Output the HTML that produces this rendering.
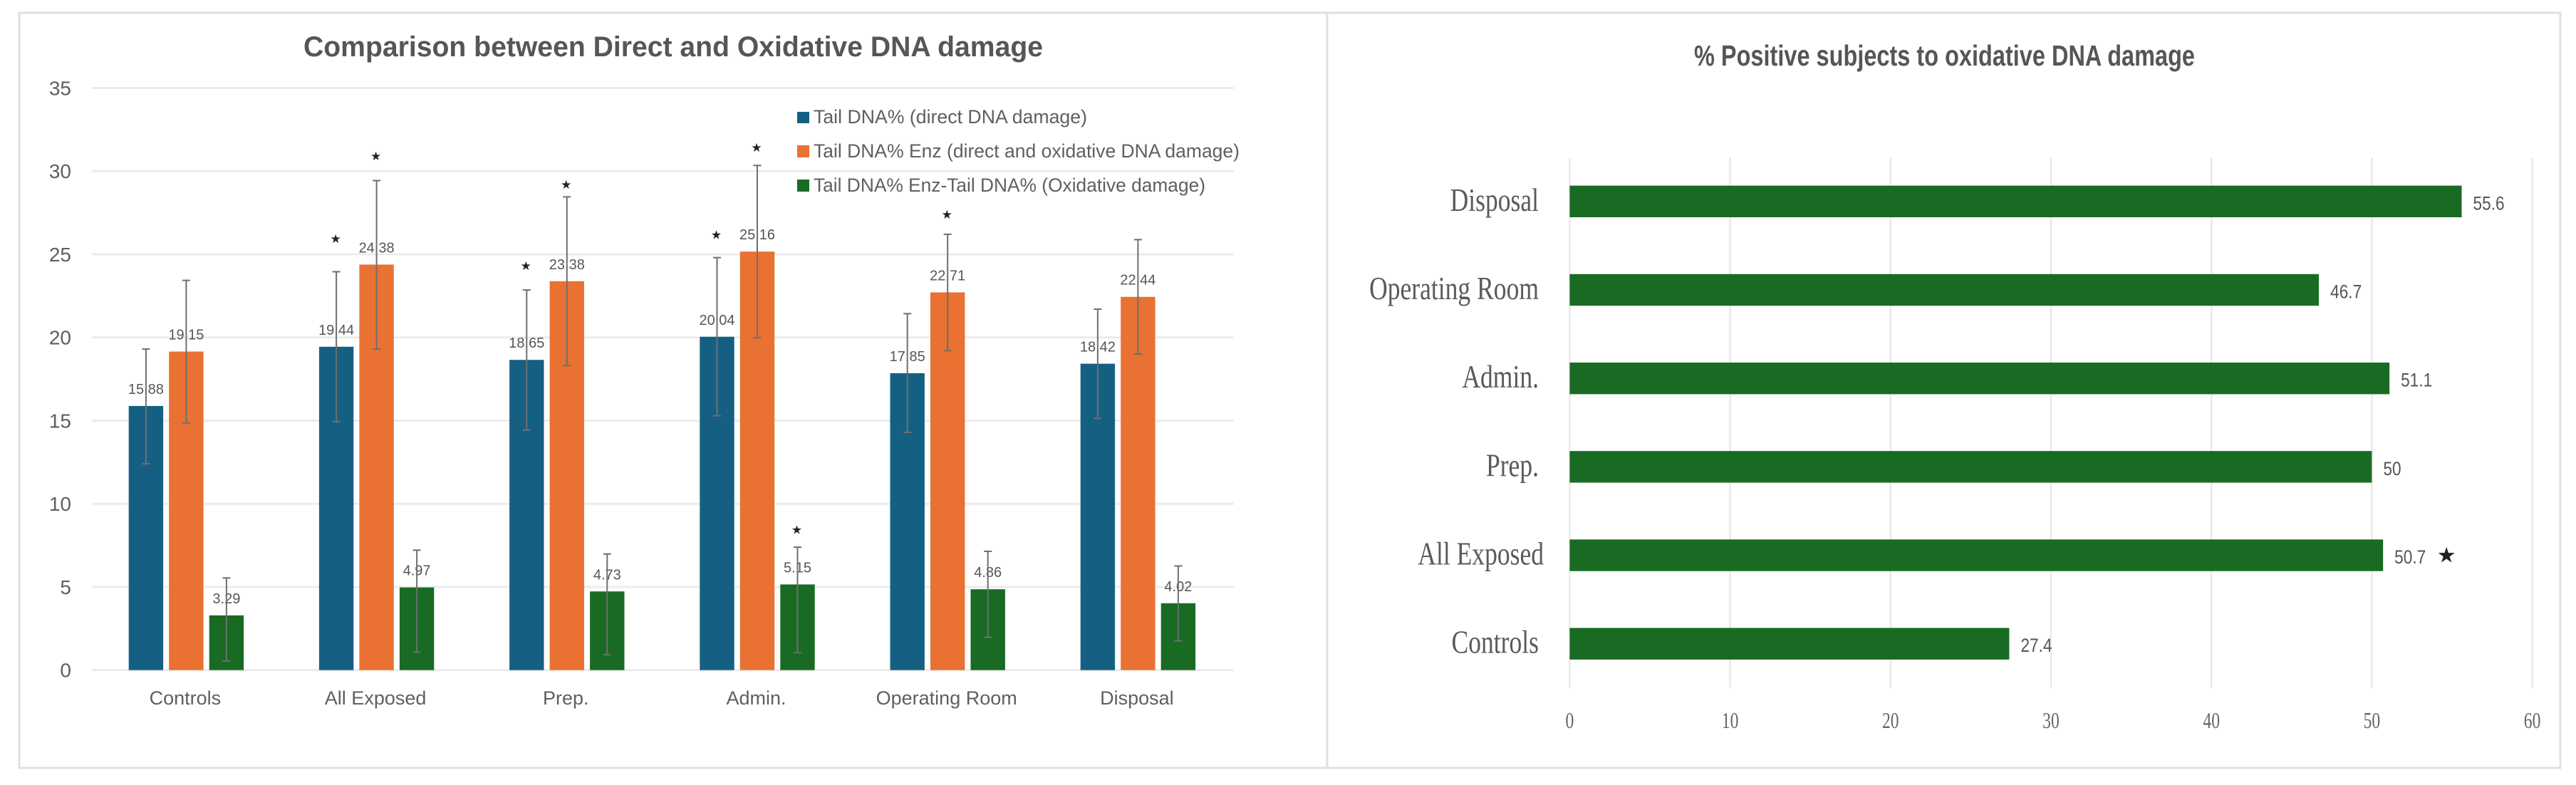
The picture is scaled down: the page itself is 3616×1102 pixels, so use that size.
<!DOCTYPE html>
<html lang="en">
<head>
<meta charset="utf-8">
<title>DNA damage charts</title>
<style>
html,body{margin:0;padding:0;background:#fff;width:3616px;height:1102px;overflow:hidden}
svg{display:block}
text{font-family:"Liberation Sans",sans-serif}
</style>
</head>
<body>
<svg id="figure" xmlns="http://www.w3.org/2000/svg" width="3616" height="1102" viewBox="0 0 3616 1102">
  <rect x="27" y="18" width="1836" height="1060" fill="#fff" stroke="#e0e0e0" stroke-width="3"/>
  <rect x="1863" y="18" width="1731" height="1060" fill="#fff" stroke="#e0e0e0" stroke-width="3"/>
  <text x="426" y="79" font-size="40" font-weight="700" fill="#565656" textLength="1038" lengthAdjust="spacingAndGlyphs">Comparison between Direct and Oxidative DNA damage</text>
  <text x="2378" y="92" font-size="41" font-weight="700" fill="#565656" textLength="703" lengthAdjust="spacingAndGlyphs">% Positive subjects to oxidative DNA damage</text>
  <g id="left-grid"></g>
  <g id="left-ticks"></g>
  <g id="left-marks"></g>
  <g id="left-cats"></g>
  <g>
    <g>
      <rect x="1119" y="157" width="17" height="16" fill="#156082"/>
      <text x="1142" y="173" font-size="27" fill="#5f5f5f" textLength="384" lengthAdjust="spacingAndGlyphs">Tail DNA% (direct DNA damage)</text>
    </g>
    <g>
      <rect x="1119" y="204" width="17" height="17" fill="#E97132"/>
      <text x="1142" y="221" font-size="27" fill="#5f5f5f" textLength="598" lengthAdjust="spacingAndGlyphs">Tail DNA% Enz (direct and oxidative DNA damage)</text>
    </g>
    <g>
      <rect x="1119" y="252" width="17" height="17" fill="#196B24"/>
      <text x="1142" y="269" font-size="27" fill="#5f5f5f" textLength="550" lengthAdjust="spacingAndGlyphs">Tail DNA% Enz-Tail DNA% (Oxidative damage)</text>
    </g>
  </g>
  <g id="right-grid"></g>
  <g id="right-marks"></g>
  <g id="right-cats"></g>
  <g id="right-ticks"></g>
</svg>
<script>
// ---- Left chart data ----
const categories = ['Controls', 'All Exposed', 'Prep.', 'Admin.', 'Operating Room', 'Disposal'];
const yTickValues = [0, 5, 10, 15, 20, 25, 30, 35];
const directValues = [15.88, 19.44, 18.65, 20.04, 17.85, 18.42];
const enzymeValues = [19.15, 24.38, 23.38, 25.16, 22.71, 22.44];
const oxidativeValues = [3.29, 4.97, 4.73, 5.15, 4.86, 4.02];
const directErrHigh = [19.3, 23.95, 22.85, 24.8, 21.43, 21.7];
const directErrLow = [12.4, 14.93, 14.43, 15.29, 14.29, 15.13];
const enzymeErrHigh = [23.43, 29.43, 28.45, 30.34, 26.2, 25.88];
const enzymeErrLow = [14.86, 19.3, 18.31, 19.98, 19.2, 19.0];
const oxidativeErrHigh = [5.54, 7.21, 6.98, 7.39, 7.14, 6.26];
const oxidativeErrLow = [0.55, 1.09, 0.92, 1.05, 1.97, 1.76];
const starGroups = [1, 1, 2, 2, 3, 3, 3, 4];
const starSeries = [0, 1, 0, 1, 0, 1, 2, 1];
const starValues = [25.94, 30.91, 24.31, 29.2, 26.18, 31.42, 8.44, 27.4];

// ---- Right chart data ----
const positiveCategories = ['Controls', 'All Exposed', 'Prep.', 'Admin.', 'Operating Room', 'Disposal'];
const positiveValues = [27.4, 50.7, 50, 51.1, 46.7, 55.6];
const xTickValues = [0, 10, 20, 30, 40, 50, 60];
const positiveStarCategory = 'All Exposed';

const NS = 'http://www.w3.org/2000/svg';
function mk(tag, parentId, props) {
  const el = document.createElementNS(NS, tag);
  for (const k in props) el.setAttribute(k, props[k]);
  document.getElementById(parentId).appendChild(el);
  return el;
}

// ---- Left axes ----
const plotLeft = 128.8, plotRight = 1732, baseY = 940.7, pxPerUnit = 23.35;
const groupWidth = (plotRight - plotLeft) / categories.length;
const barPitch = 56.5, barWidth = 48.4;
function yScale(v) { return baseY - v * pxPerUnit; }
function groupCenter(i) { return plotLeft + groupWidth * (i + 0.5); }
function barCenter(i, s) { return groupCenter(i) - 1 + (s - 1) * barPitch; }

yTickValues.forEach(function (t) {
  const line = mk('line', 'left-grid', {x1: plotLeft, x2: plotRight, y1: yScale(t), y2: yScale(t), stroke: '#ececec', 'stroke-width': 3});
  
  
  const label = mk('text', 'left-ticks', {x: 100, y: yScale(t) + 10, 'text-anchor': 'end', 'font-size': 28, fill: '#5f5f5f'});
  label.textContent = String(t);
  
  
});

const seriesValues = [directValues, enzymeValues, oxidativeValues];
const seriesHigh = [directErrHigh, enzymeErrHigh, oxidativeErrHigh];
const seriesLow = [directErrLow, enzymeErrLow, oxidativeErrLow];
const seriesColors = ['#156082', '#E97132', '#196B24'];

categories.forEach(function (cat, i) {
  const catLabel = mk('text', 'left-cats', {x: groupCenter(i) - 2.5, y: 989, 'text-anchor': 'middle', 'font-size': 27, fill: '#5f5f5f'});
  catLabel.textContent = cat;
  
  

  seriesValues.forEach(function (vals, s) {
    const cx = barCenter(i, s);
    const bar = mk('rect', 'left-marks', {x: cx - barWidth / 2, y: yScale(vals[i]), width: barWidth, height: baseY - yScale(vals[i]), fill: seriesColors[s]});
    
    

    const valueLabel = mk('text', 'left-marks', {x: cx, y: yScale(vals[i]) - 17, 'text-anchor': 'middle', 'font-size': 20, fill: '#555'});
    valueLabel.textContent = vals[i].toFixed(2);
    
    

    const hi = yScale(seriesHigh[s][i]), lo = yScale(seriesLow[s][i]);
    const stem = mk('line', 'left-marks', {x1: cx, x2: cx, y1: hi, y2: lo, stroke: '#6f6f6f', 'stroke-width': 2});
    
    
    const capTop = mk('line', 'left-marks', {x1: cx - 5.5, x2: cx + 5.5, y1: hi, y2: hi, stroke: '#6f6f6f', 'stroke-width': 2});
    
    
    const capBottom = mk('line', 'left-marks', {x1: cx - 5.5, x2: cx + 5.5, y1: lo, y2: lo, stroke: '#6f6f6f', 'stroke-width': 2});
    
    
  });
});

starValues.forEach(function (v, k) {
  const star = mk('text', 'left-marks', {x: barCenter(starGroups[k], starSeries[k]) - 1, y: yScale(v) + 6, 'text-anchor': 'middle', 'font-size': 17, fill: '#222', style: 'font-family:"DejaVu Sans",sans-serif'});
  star.textContent = '\u2605';
  
  
});

// ---- Right axes ----
const x0 = 2203.4, pxPerPct = 22.52, plotTop = 220.7, plotBottom = 965.8, barThick = 44.4;
const bandH = (plotBottom - plotTop) / positiveCategories.length;
function xScale(v) { return x0 + v * pxPerPct; }
function bandCenter(i) { return plotBottom - bandH * (i + 0.5); }

xTickValues.forEach(function (t) {
  const line = mk('line', 'right-grid', {x1: xScale(t), x2: xScale(t), y1: plotTop, y2: plotBottom, stroke: '#e9e9e9', 'stroke-width': 2.5});
  
  
  const label = mk('text', 'right-ticks', {transform: 'translate(' + xScale(t) + ',1022) scale(0.74,1)', 'text-anchor': 'middle', 'font-size': 32, fill: '#666', style: 'font-family:"Liberation Serif",serif'});
  label.textContent = String(t);
  
  
});

positiveCategories.forEach(function (cat, i) {
  const cy = bandCenter(i);
  const bar = mk('rect', 'right-marks', {x: x0, y: cy - barThick / 2, width: xScale(positiveValues[i]) - x0, height: barThick, fill: '#196B24'});
  
  

  const valueLabel = mk('text', 'right-marks', {transform: 'translate(' + (xScale(positiveValues[i]) + 16) + ',' + (cy + 11.5) + ') scale(0.84,1)', 'font-size': 27, fill: '#555'});
  valueLabel.textContent = String(positiveValues[i]);
  
  

  const catLabel = mk('text', 'right-cats', {transform: 'translate(' + (cat === positiveStarCategory ? 2167 : 2160) + ',' + (cy + 13) + ') scale(0.79,1)', 'text-anchor': 'end', 'font-size': 45, fill: '#5a5a5a', style: 'font-family:"Liberation Serif",serif'});
  catLabel.textContent = cat;
  
  

  if (cat === positiveStarCategory) {
    const star = mk('text', 'right-marks', {x: xScale(positiveValues[i]) + 89, y: cy + 10, 'text-anchor': 'middle', 'font-size': 30, fill: '#222', style: 'font-family:"DejaVu Sans",sans-serif'});
    star.textContent = '\u2605';
    
    
  }
});
</script>
</body>
</html>
